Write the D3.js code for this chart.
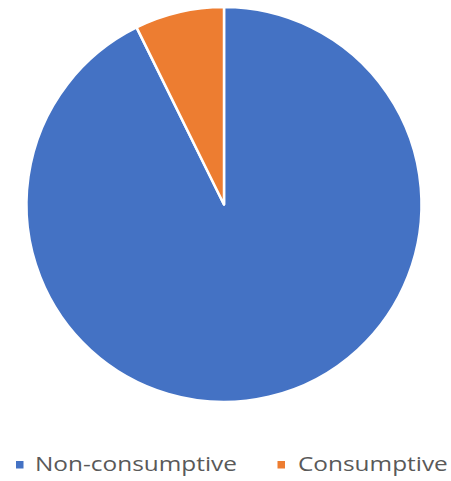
<!DOCTYPE html>
<html>
<head>
<meta charset="utf-8">
<script src="https://cdn.jsdelivr.net/npm/d3@7"></script>
<style>
  body { margin: 0; background: #fff; }
</style>
</head>
<body>
<div id="chart"></div>
<script>
(() => {
    const width = 451;
    const height = 481;

    // Data
    const categories = ["Non-consumptive", "Consumptive"];
    const values = [92.7, 7.3];
    const colors = ["#4472C4", "#ED7D31"];

    const cx = 224, cy = 204.5, radius = 197.5;

    const svg = d3.select("#chart")
        .append("svg")
        .attr("width", width)
        .attr("height", height);

    const color = d3.scaleOrdinal().domain(categories).range(colors);

    const pie = d3.pie().sort(null).value((d, i) => values[i]);
    const arc = d3.arc().innerRadius(0).outerRadius(radius);

    const g = svg.append("g").attr("transform", `translate(${cx}, ${cy})`);

    g.selectAll("path")
        .data(pie(categories))
        .join("path")
        .attr("d", arc)
        .attr("fill", d => color(d.data))
        .attr("stroke", "#fff")
        .attr("stroke-width", 2.5)
        .attr("stroke-linejoin", "round");

    // Legend
    const legendItems = [
        { name: categories[0], x: 16, tx: 19 },
        { name: categories[1], x: 277.5, tx: 20.5 }
    ];
    const legendY = 461;

    const item = svg.append("g")
        .selectAll("g")
        .data(legendItems)
        .join("g")
        .attr("transform", d => `translate(${d.x}, ${legendY})`);

    item.append("rect")
        .attr("x", 0)
        .attr("y", 0)
        .attr("width", 7.5)
        .attr("height", 7.5)
        .attr("fill", d => color(d.name));

    // the legend font in the picture is wide, so stretch it sideways
    item.append("text")
        .attr("transform", d => `translate(${d.tx}, 10) scale(1.22, 1)`)
        .style("font-family", "'Open Sans', sans-serif")
        .style("font-size", "20px")
        .style("fill", "#595959")
        .text(d => d.name);
})();
</script>
</body>
</html>
